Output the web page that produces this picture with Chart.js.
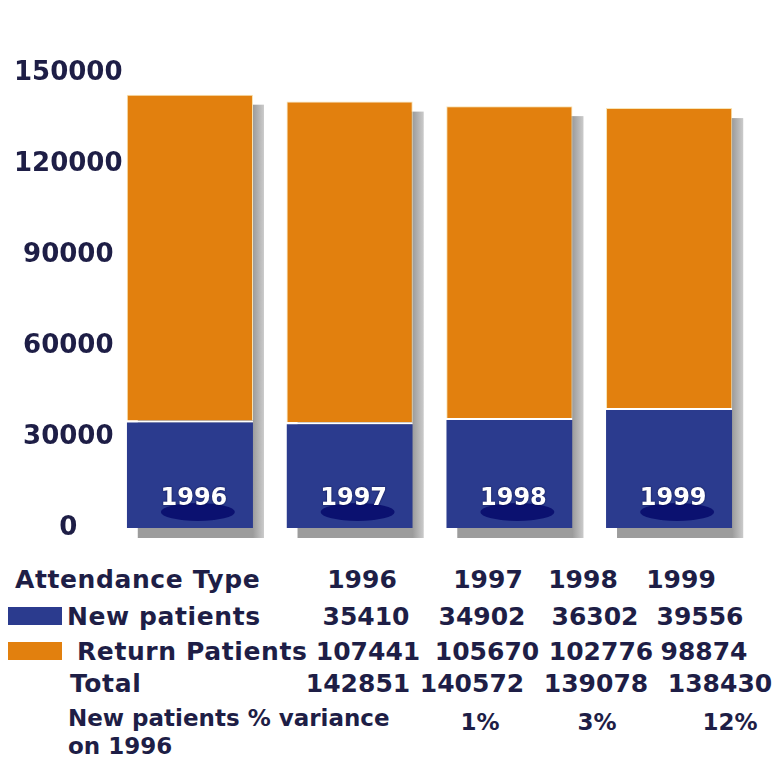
<!DOCTYPE html>
<html>
<head>
<meta charset="utf-8">
<script src="https://cdn.jsdelivr.net/npm/chart.js@4"></script>
<style>
  body { margin: 0; background: #fff; }
  #page { position: relative; width: 779px; height: 757px; overflow: hidden; font-family: "DejaVu Sans", sans-serif; font-weight: bold; color: #1e1e46; }
  #chartBox { position: absolute; left: 0; top: 0; width: 779px; height: 550px; }
  .cell { position: absolute; white-space: nowrap; font-size: 25px; line-height: 30px; transform: translate(-50%, -50%); }
  .lbl { position: absolute; white-space: nowrap; font-size: 25px; line-height: 30px; letter-spacing: 0.6px; transform: translateY(-50%); }
  .small { font-size: 23px; line-height: 27px; letter-spacing: 0; }
  .swatch { position: absolute; left: 8px; width: 54px; height: 18px; }
</style>
</head>
<body>
<div id="page">
  <div id="chartBox"><canvas id="myChart"></canvas></div>
</div>
<script>
const years = ['1996', '1997', '1998', '1999']
const newPatients = [35410, 34902, 36302, 39556]
const returnPatients = [107441, 105670, 102776, 98874]
const varianceLabels = ['', '1%', '3%', '12%']
const yTicks = [0, 30000, 60000, 90000, 120000, 150000]

const blue = '#2b3b8e'
const orange = '#e2800e'

// year labels drawn inside the bars, plus the grey drop shadow behind them
const barDecor = {
  id: 'barDecor',
  beforeDatasetsDraw(chart) {
    const ctx = chart.ctx
    const lower = chart.getDatasetMeta(0).data
    const upper = chart.getDatasetMeta(1).data
    ctx.save()
    lower.forEach((bar, i) => {
      const top = upper[i].y
      const x0 = bar.x - bar.width / 2 + 11
      const g = ctx.createLinearGradient(bar.x + bar.width / 2, 0, bar.x + bar.width / 2 + 12, 0)
      g.addColorStop(0, '#9c9c9c')
      g.addColorStop(1, '#cfcfcf')
      ctx.fillStyle = g
      ctx.fillRect(x0, top + 10, bar.width, bar.base - top)
    })
    ctx.restore()
  },
  afterDatasetsDraw(chart) {
    const ctx = chart.ctx
    chart.getDatasetMeta(0).data.forEach((bar, i) => {
      ctx.save()
      ctx.fillStyle = '#0b1170'
      ctx.beginPath()
      ctx.ellipse(bar.x + 8, bar.base - 16, 37, 9, 0, 0, Math.PI * 2)
      ctx.fill()
      ctx.fillStyle = '#fff'
      ctx.shadowColor = 'rgba(0,0,40,0.8)'
      ctx.shadowBlur = 2
      ctx.font = 'bold 24px "DejaVu Sans"'
      ctx.textAlign = 'center'
      ctx.textBaseline = 'middle'
      ctx.fillText(years[i], bar.x + 4, bar.base - 29)
      ctx.restore()
    })
  }
}

var ctx = document.getElementById('myChart').getContext('2d');
var chart = new Chart(ctx, {
  type: 'bar',
  data: {
    labels: years,
    datasets: [
      {
        label: 'New patients',
        data: newPatients,
        backgroundColor: blue,
        borderColor: '#ffffff',
        borderWidth: { top: 2, right: 0, bottom: 0, left: 0 },
        barPercentage: 0.79,
        categoryPercentage: 1
      },
      {
        label: 'Return Patients',
        data: returnPatients,
        backgroundColor: orange,
        borderColor: '#f8e4b4',
        borderWidth: 1,
        barPercentage: 0.79,
        categoryPercentage: 1
      }
    ]
  },
  options: {
    responsive: true,
    maintainAspectRatio: false,
    animation: false,
    layout: { padding: { top: 73, bottom: 22, right: 30, left: 0 } },
    plugins: { legend: { display: false }, tooltip: { enabled: false } },
    scales: {
      x: { stacked: true, display: false },
      y: {
        stacked: true,
        min: 0,
        max: 150000,
        border: { display: false },
        grid: { display: false, drawTicks: false },
        afterFit: scale => { scale.width = 110 },
        afterBuildTicks: scale => { scale.ticks = yTicks.map(v => ({ value: v })) },
        ticks: {
          mirror: true,
          crossAlign: 'center',
          padding: -96,
          color: '#1e1e46',
          font: { family: 'DejaVu Sans', weight: 'bold', size: 26 },
          callback: v => String(v)
        }
      }
    }
  },
  plugins: [barDecor]
});

// table under the chart
const page = document.getElementById('page')
function addText(cls, text, x, y) {
  const d = document.createElement('div')
  d.className = cls
  d.textContent = text
  d.style.left = x + 'px'
  d.style.top = y + 'px'
  page.appendChild(d)
}
function addSwatch(color, y) {
  const d = document.createElement('div')
  d.className = 'swatch'
  d.style.top = y + 'px'
  d.style.background = color
  page.appendChild(d)
}

const totals = newPatients.map((v, i) => v + returnPatients[i])
const rowY = [580, 617, 652, 684, 720]
const colX = [
  [362, 488, 583, 681],
  [366, 482, 595, 700],
  [368, 487, 601, 704],
  [358, 472, 596, 720],
  [0, 480, 597, 730]
]

addText('lbl', 'Attendance Type', 15, rowY[0])
years.forEach((y, i) => addText('cell', y, colX[0][i], rowY[0]))

addSwatch(blue, 607)
addText('lbl', 'New patients', 67, rowY[1])
newPatients.forEach((v, i) => addText('cell', v, colX[1][i], rowY[1]))

addSwatch(orange, 642)
addText('lbl', 'Return Patients', 77, rowY[2])
returnPatients.forEach((v, i) => addText('cell', v, colX[2][i], rowY[2]))

addText('lbl', 'Total', 70, rowY[3])
totals.forEach((v, i) => addText('cell', v, colX[3][i], rowY[3]))

addText('lbl small', 'New patients % variance', 68, rowY[4] - 2)
addText('lbl small', 'on 1996', 68, rowY[4] + 26)
varianceLabels.forEach((v, i) => { if (v) addText('cell small', v, colX[4][i], rowY[4] + 2) })
</script>
</body>
</html>
